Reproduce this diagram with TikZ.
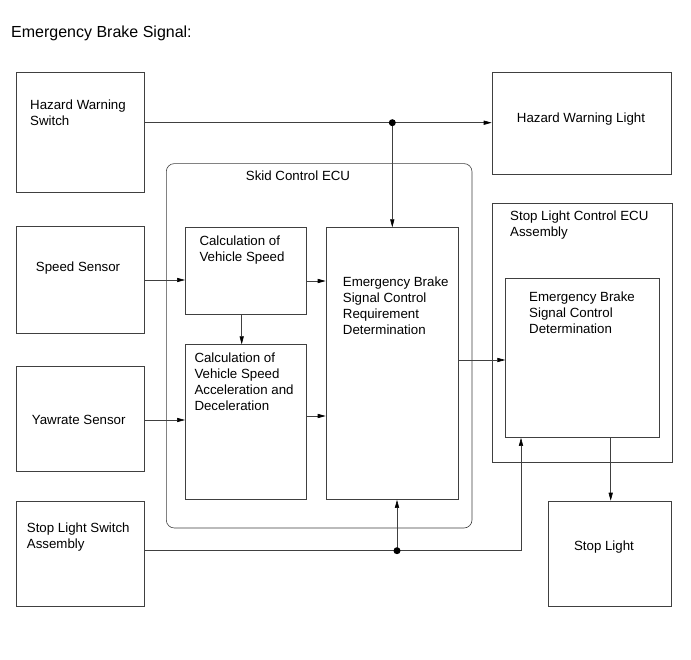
\documentclass[tikz,border=0pt]{standalone}
\usepackage{fontspec}
\setmainfont{Liberation Sans}
\usetikzlibrary{arrows.meta}
\begin{document}
\begin{tikzpicture}[x=1pt,y=-1pt,
  box/.style={draw=black!75,line width=0.6pt,rectangle,inner sep=0pt,anchor=north west},
  txt/.style={inner sep=0pt,font=\fontsize{13.3}{16}\selectfont,text=black},
  mtxt/.style={txt,anchor=north west,align=left},
  stxt/.style={txt,anchor=base west},
  arr/.style={draw=black!75,line width=0.6pt,-{Triangle[length=8pt,width=4.2pt,color=black]}},
  dotc/.style={fill=black}]
\useasboundingbox (0,0) rectangle (691,660);
\fill[white] (0,0) rectangle (691,660);

% title
\node[inner sep=0pt,anchor=base west,font=\fontsize{16}{19}\selectfont] (title) at (11,37.4) {Emergency Brake Signal:};

% boxes
\node[box,minimum width=127.7pt,minimum height=120.3pt] (hws) at (16,71.7) {};
\node[box,minimum width=127.7pt,minimum height=107.3pt] (ss) at (16,225.7) {};
\node[box,minimum width=127.7pt,minimum height=105pt] (yaw) at (16,365.7) {};
\node[box,minimum width=127.7pt,minimum height=105.3pt] (sls) at (16,500.7) {};
\node[box,minimum width=179.3pt,minimum height=102.3pt] (hwl) at (491.7,71.7) {};
\node[box,rounded corners=8pt,minimum width=305.7pt,minimum height=364.4pt] (skid) at (166,163.3) {};
\node[box,minimum width=121pt,minimum height=86.7pt] (cvs) at (185,227.3) {};
\node[box,minimum width=121pt,minimum height=155pt] (cva) at (185,344.3) {};
\node[box,minimum width=132.6pt,minimum height=272pt] (ebr) at (325.7,227.3) {};
\node[box,minimum width=180pt,minimum height=258.4pt] (slc) at (491.7,203.3) {};
\node[box,minimum width=154pt,minimum height=159pt] (ebd) at (505.3,278.3) {};
\node[box,minimum width=122.7pt,minimum height=105pt] (sl) at (548.3,500.7) {};

% texts
\node[mtxt] (thws) at (30,99.2) {Hazard Warning\\Switch};
\node[stxt] (tss) at (35.7,271.4) {Speed Sensor};
\node[stxt] (tyaw) at (31.7,424.8) {Yawrate Sensor};
\node[mtxt] (tsls) at (26.7,522.9) {Stop Light Switch\\Assembly};
\node[txt,anchor=base] (thwl) at (581,122.4) {Hazard Warning Light};
\node[stxt] (tskid) at (245.7,180.8) {Skid Control ECU};
\node[mtxt] (tcvs) at (199.3,235.2) {Calculation of\\Vehicle Speed};
\node[mtxt] (tcva) at (194.3,352.9) {Calculation of\\Vehicle Speed\\Acceleration and\\Deceleration};
\node[mtxt] (tebr) at (342.7,276.9) {Emergency Brake\\Signal Control\\Requirement\\Determination};
\node[mtxt] (tslc) at (510,210.9) {Stop Light Control ECU\\Assembly};
\node[mtxt] (tebd) at (529,291.9) {Emergency Brake\\Signal Control\\Determination};
\node[txt,anchor=base] (tsl) at (604,550.8) {Stop Light};

% connector helper coordinates
\coordinate (dot1) at (392.3,122.7);
\coordinate (dot2) at (397,550.7);
\coordinate (ya) at (0,280);
\coordinate (yb) at (0,281);
\coordinate (yc) at (0,420);
\coordinate (yd) at (0,416);
\coordinate (ye) at (0,360);
\coordinate (xa) at (241.7,0);
\coordinate (xb) at (610.7,0);
\coordinate (corner) at (521,550.7);

% connectors
\draw[arr] (hws.east |- dot1) -- (hwl.west |- dot1);
\draw[arr] (dot1) -- (dot1 |- ebr.north);
\draw[arr] (ss.east |- ya) -- (cvs.west |- ya);
\draw[arr] (cvs.east |- yb) -- (ebr.west |- yb);
\draw[arr] (cvs.south -| xa) -- (cva.north -| xa);
\draw[arr] (yaw.east |- yc) -- (cva.west |- yc);
\draw[arr] (cva.east |- yd) -- (ebr.west |- yd);
\draw[arr] (ebr.east |- ye) -- (ebd.west |- ye);
\draw[arr] (sls.east |- dot2) -- (corner) -- (corner |- ebd.south);
\draw[arr] (dot2) -- (dot2 |- ebr.south);
\draw[arr] (ebd.south -| xb) -- (sl.north -| xb);
\fill[dotc] (dot1) circle (3.5);
\fill[dotc] (dot2) circle (3.5);
\end{tikzpicture}
\end{document}
